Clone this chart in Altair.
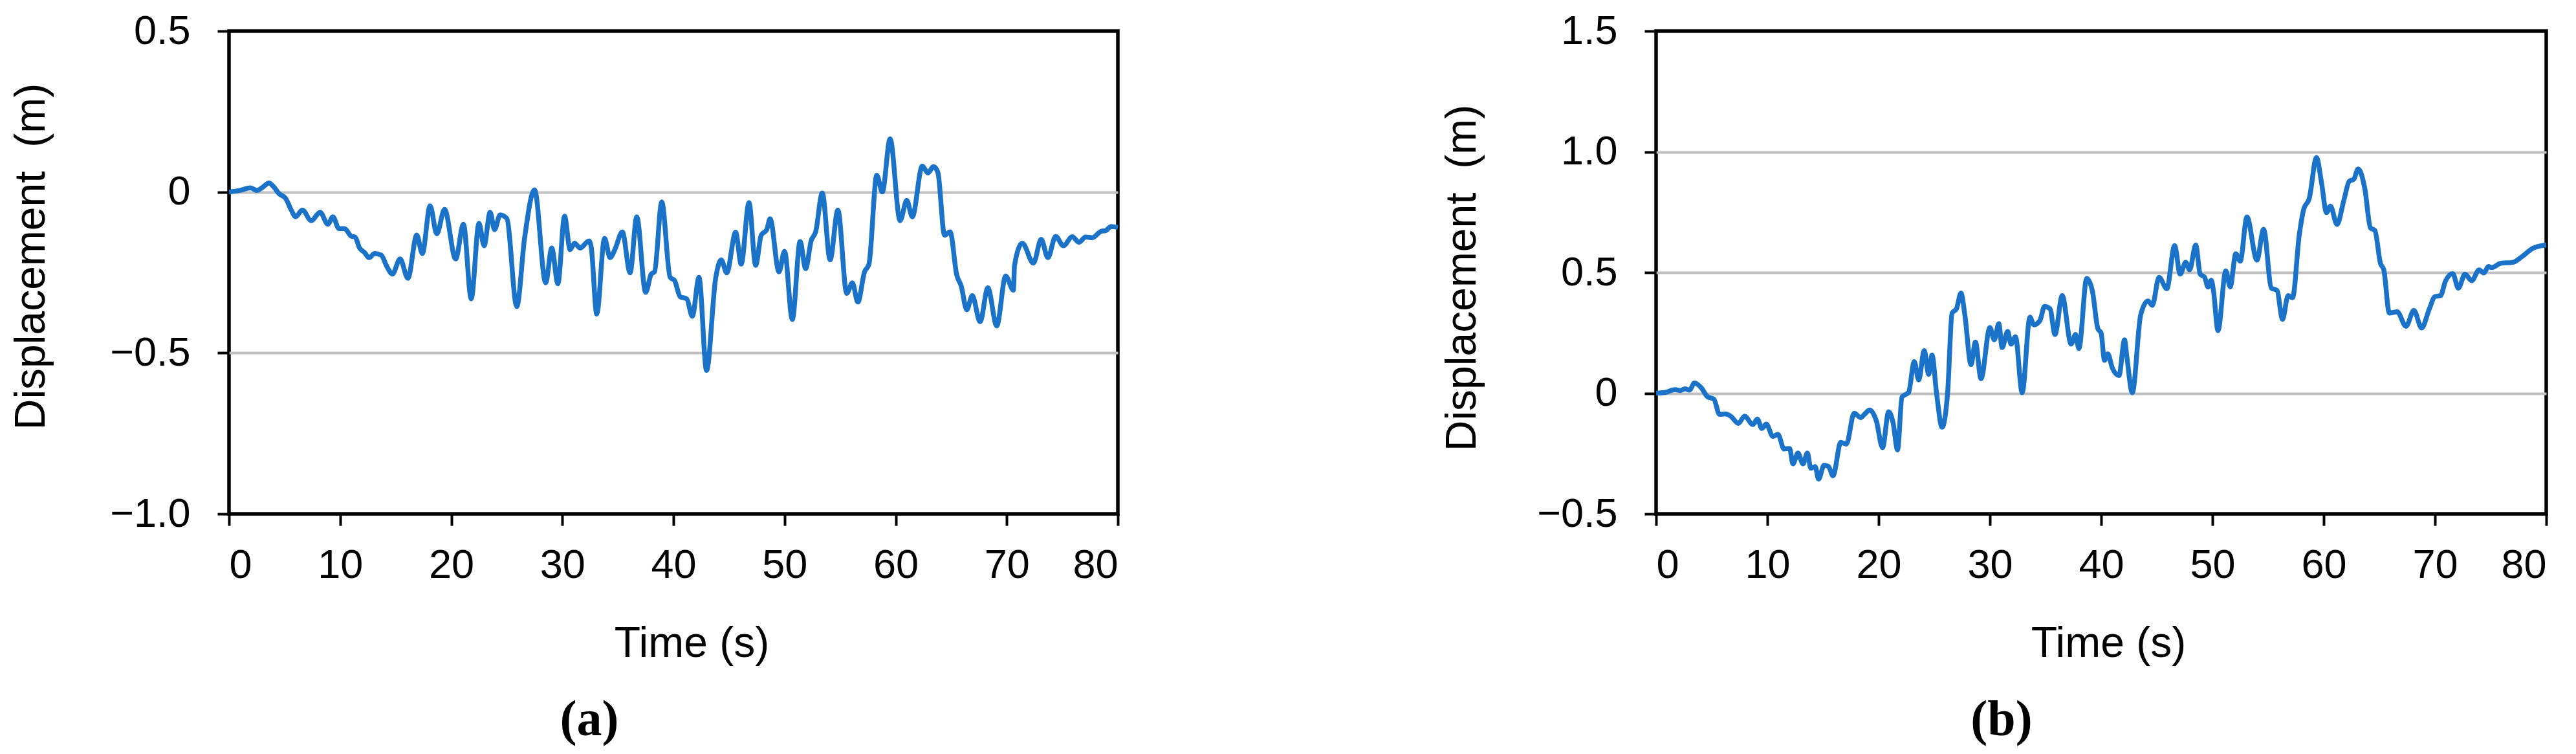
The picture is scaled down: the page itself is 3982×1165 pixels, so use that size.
import altair as alt
import pandas as pd

# ---------------- data ----------------
time_a = [0, 1.0, 1.94, 2.5, 3.0, 3.6, 4.0, 4.5, 5.1, 5.6, 6.0, 6.6, 7.4, 8.2, 8.9, 9.35, 9.9,
          10.4, 11.0, 11.35, 11.75, 12.2, 12.6, 13.1, 13.7, 14.2, 14.7, 15.4, 16.1, 16.9, 17.4,
          18.1, 18.7, 19.4, 20.4, 21.1, 21.8, 22.5, 22.96, 23.5, 23.9, 24.4, 25.0, 25.9, 26.6,
          27.5, 28.5, 29.05, 29.6, 30.2, 30.7, 31.1, 31.6, 32.4, 32.6, 33.1, 33.8, 34.3, 34.75,
          35.4, 36.1, 36.7, 37.5, 38.0, 38.3, 38.95, 39.7, 40.1, 40.6, 41.2, 41.7, 42.3, 42.98,
          43.8, 44.3, 44.8, 45.6, 46.1, 46.8, 47.4, 47.9, 48.4, 48.7, 49.5, 50.0, 50.7, 51.4,
          51.9, 52.4, 52.8, 53.4, 54.1, 54.8, 55.6, 56.1, 56.6, 57.2, 57.6, 58.3, 58.8, 59.5,
          60.4, 61.0, 61.5, 62.4, 62.9, 63.4, 63.8, 64.4, 64.9, 65.5, 65.9, 66.4, 66.9, 67.6,
          68.3, 69.1, 69.9, 70.6, 70.7, 71.4, 72.4, 73.1, 73.7, 74.4, 75.1, 75.9, 76.5, 77.1,
          77.7, 78.5, 78.9, 79.4, 80.0]
disp_a = [0, 0.005, 0.013, 0.005, 0.014, 0.028, 0.017, -0.005, -0.02, -0.056, -0.077, -0.056,
          -0.089, -0.063, -0.10, -0.077, -0.114, -0.114, -0.137, -0.14, -0.174, -0.188, -0.204,
          -0.191, -0.196, -0.231, -0.255, -0.208, -0.268, -0.134, -0.191, -0.043, -0.13, -0.054,
          -0.208, -0.10, -0.332, -0.097, -0.167, -0.063, -0.117, -0.071, -0.082, -0.356, -0.144,
          0.007, -0.282, -0.174, -0.285, -0.075, -0.179, -0.159, -0.174, -0.152, -0.171, -0.379,
          -0.144, -0.204, -0.177, -0.124, -0.251, -0.077, -0.312, -0.255, -0.248, -0.031, -0.265,
          -0.275, -0.325, -0.332, -0.386, -0.265, -0.554, -0.268, -0.211, -0.251, -0.125, -0.224,
          -0.033, -0.228, -0.134, -0.117, -0.083, -0.248, -0.184, -0.396, -0.154, -0.238, -0.151,
          -0.124, -0.003, -0.211, -0.056, -0.315, -0.282, -0.342, -0.248, -0.224, 0.052, 0.0,
          0.165, -0.089, -0.026, -0.077, 0.081, 0.059, 0.079, 0.061, -0.134, -0.124, -0.258,
          -0.292, -0.366, -0.322, -0.403, -0.298, -0.416, -0.261, -0.305, -0.228, -0.159, -0.221,
          -0.147, -0.204, -0.138, -0.167, -0.139, -0.156, -0.14, -0.142, -0.122, -0.12, -0.107,
          -0.11]

time_b = [0, 0.9, 1.7, 2.2, 2.6, 3.0, 3.45, 4.1, 4.6, 5.2, 5.7, 6.2, 6.7, 7.4, 7.95, 8.7, 9.1,
          9.5, 9.9, 10.5, 10.95, 11.5, 12.0, 12.3, 12.75, 13.2, 13.6, 13.9, 14.3, 14.6, 15.1,
          15.5, 15.9, 16.6, 17.1, 17.8, 18.4, 18.7, 19.2, 19.8, 20.35, 20.9, 21.3, 21.7, 22.1,
          22.7, 23.2, 23.6, 24.1, 24.5, 24.8, 25.2, 25.7, 26.2, 26.6, 27.0, 27.4, 27.75, 28.3,
          28.7, 29.2, 30.0, 30.4, 30.8, 31.1, 31.6, 31.9, 32.3, 32.9, 33.6, 33.95, 34.5, 34.9,
          35.4, 35.85, 36.5, 37.3, 37.7, 38.0, 38.7, 39.2, 39.7, 40.0, 40.3, 40.6, 41.0, 41.6,
          42.1, 42.3, 42.8, 43.55, 44.2, 44.6, 45.2, 45.9, 46.6, 47.1, 47.6, 47.95, 48.5, 48.9,
          49.3, 49.6, 49.9, 50.1, 50.5, 51.2, 51.6, 52.1, 52.5, 53.1, 54.0, 54.6, 55.3, 55.8,
          56.3, 56.8, 57.2, 57.8, 58.2, 58.7, 59.35, 59.8, 60.25, 60.6, 61.2, 61.8, 62.3, 62.7,
          63.1, 63.7, 64.2, 64.6, 65.1, 65.4, 65.9, 66.6, 67.4, 68.1, 68.8, 69.5, 70.0, 70.5,
          70.95, 71.6, 72.1, 72.7, 73.3, 73.97, 74.4, 74.8, 75.1, 75.9, 77.0, 77.8, 78.8, 80.0]
disp_b = [0, 0.004, 0.015, 0.011, 0.018, 0.013, 0.042, 0.02, -0.014, -0.025, -0.088, -0.086,
          -0.095, -0.125, -0.095, -0.13, -0.107, -0.146, -0.128, -0.179, -0.17, -0.231, -0.229,
          -0.293, -0.248, -0.293, -0.248, -0.311, -0.304, -0.356, -0.298, -0.304, -0.342, -0.204,
          -0.211, -0.083, -0.101, -0.089, -0.07, -0.116, -0.226, -0.077, -0.123, -0.235, -0.016,
          0.004, 0.131, 0.055, 0.176, 0.078, 0.158, 0.002, -0.141, 0.002, 0.332, 0.35, 0.415,
          0.324, 0.118, 0.212, 0.06, 0.272, 0.221, 0.288, 0.189, 0.256, 0.203, 0.234, 0.002,
          0.315, 0.283, 0.301, 0.359, 0.35, 0.243, 0.404, 0.203, 0.243, 0.185, 0.475, 0.426,
          0.268, 0.248, 0.136, 0.163, 0.105, 0.073, 0.221, 0.154, 0.002, 0.324, 0.382, 0.364,
          0.48, 0.433, 0.611, 0.493, 0.542, 0.511, 0.614, 0.493, 0.48, 0.44, 0.468, 0.422, 0.259,
          0.507, 0.44, 0.578, 0.547, 0.73, 0.551, 0.679, 0.435, 0.426, 0.306, 0.404, 0.395,
          0.654, 0.761, 0.806, 0.976, 0.873, 0.748, 0.775, 0.699, 0.797, 0.878, 0.886, 0.929,
          0.846, 0.685, 0.674, 0.538, 0.511, 0.332, 0.337, 0.277, 0.343, 0.27, 0.35, 0.4, 0.404,
          0.465, 0.495, 0.435, 0.493, 0.466, 0.511, 0.498, 0.525, 0.52, 0.538, 0.542, 0.565,
          0.6, 0.614]

x_ticks = [0, 10, 20, 30, 40, 50, 60, 70, 80]
y_ticks_a = [-1.0, -0.5, 0.0, 0.5]
y_ticks_b = [-0.5, 0.0, 0.5, 1.0, 1.5]
captions = ["(a)", "(b)"]
x_title = "Time (s)"
y_title = "Displacement \u00a0(m)"

FONT = "Liberation Sans"
LINE_COLOR = "#1a73c8"
GRID_COLOR = "#bfbfbf"


def panel(t, d, yticks, width, ytitle_x, ytitle_y, xtitle_x, cap, cap_x):
    lo, hi = min(yticks), max(yticks)
    df = pd.DataFrame({"t": t, "d": d})
    x_axis = alt.Axis(
        values=x_ticks, title=x_title, grid=False, domain=False,
        tickSize=18, tickWidth=4, tickColor="black",
        labelPadding=30, labelFont=FONT, labelFontSize=63, labelColor="black",
        titleFont=FONT, titleFontSize=66, titleFontWeight="normal", titleColor="black",
        titleX=xtitle_x, titleY=220, titleBaseline="alphabetic", titleAlign="center",
    )
    y_axis = alt.Axis(
        values=yticks, title=y_title, domain=False,
        labelExpr="datum.value == 0 ? '0' : format(datum.value, '.1f')",
        grid=True, gridColor=GRID_COLOR, gridWidth=4,
        gridOpacity={"condition": {"test": f"datum.value <= {lo} || datum.value >= {hi}",
                                   "value": 0}, "value": 1},
        tickSize=18, tickWidth=4, tickColor="black",
        labelPadding=42, labelFont=FONT, labelFontSize=63, labelColor="black",
        titleFont=FONT, titleFontSize=66, titleFontWeight="normal", titleColor="black",
        titleX=ytitle_x, titleY=ytitle_y, titleAngle=270,
        titleBaseline="alphabetic", titleAlign="center",
    )
    line = alt.Chart(df).mark_line(
        color=LINE_COLOR, strokeWidth=7.5, interpolate="monotone"
    ).encode(
        x=alt.X("t:Q", scale=alt.Scale(domain=[0, 80], nice=False, zero=False), axis=x_axis),
        y=alt.Y("d:Q", scale=alt.Scale(domain=[lo, hi], nice=False, zero=False), axis=y_axis),
    )
    label = alt.Chart(pd.DataFrame({"cap": [cap]})).mark_text(
        font="Liberation Serif", fontWeight="bold", fontSize=78, color="black",
        baseline="alphabetic", align="center",
    ).encode(text="cap:N", x=alt.value(cap_x), y=alt.value(1088))
    return alt.layer(line, label).properties(width=width, height=746)


pa = panel(time_a, disp_a, y_ticks_a, 1374, -286, 348, 715, captions[0], 557)
pb = panel(time_b, disp_b, y_ticks_b, 1376, -280, 381, 699, captions[1], 534)

chart = alt.hconcat(pa, pb, spacing=832, bounds="flush").configure_view(
    stroke="black", strokeWidth=5.5
).properties(
    padding={"left": 4, "top": 6, "right": 5, "bottom": 5}, background="white"
)

chart.save("out.html", embed_options={"renderer": "svg", "actions": False})
